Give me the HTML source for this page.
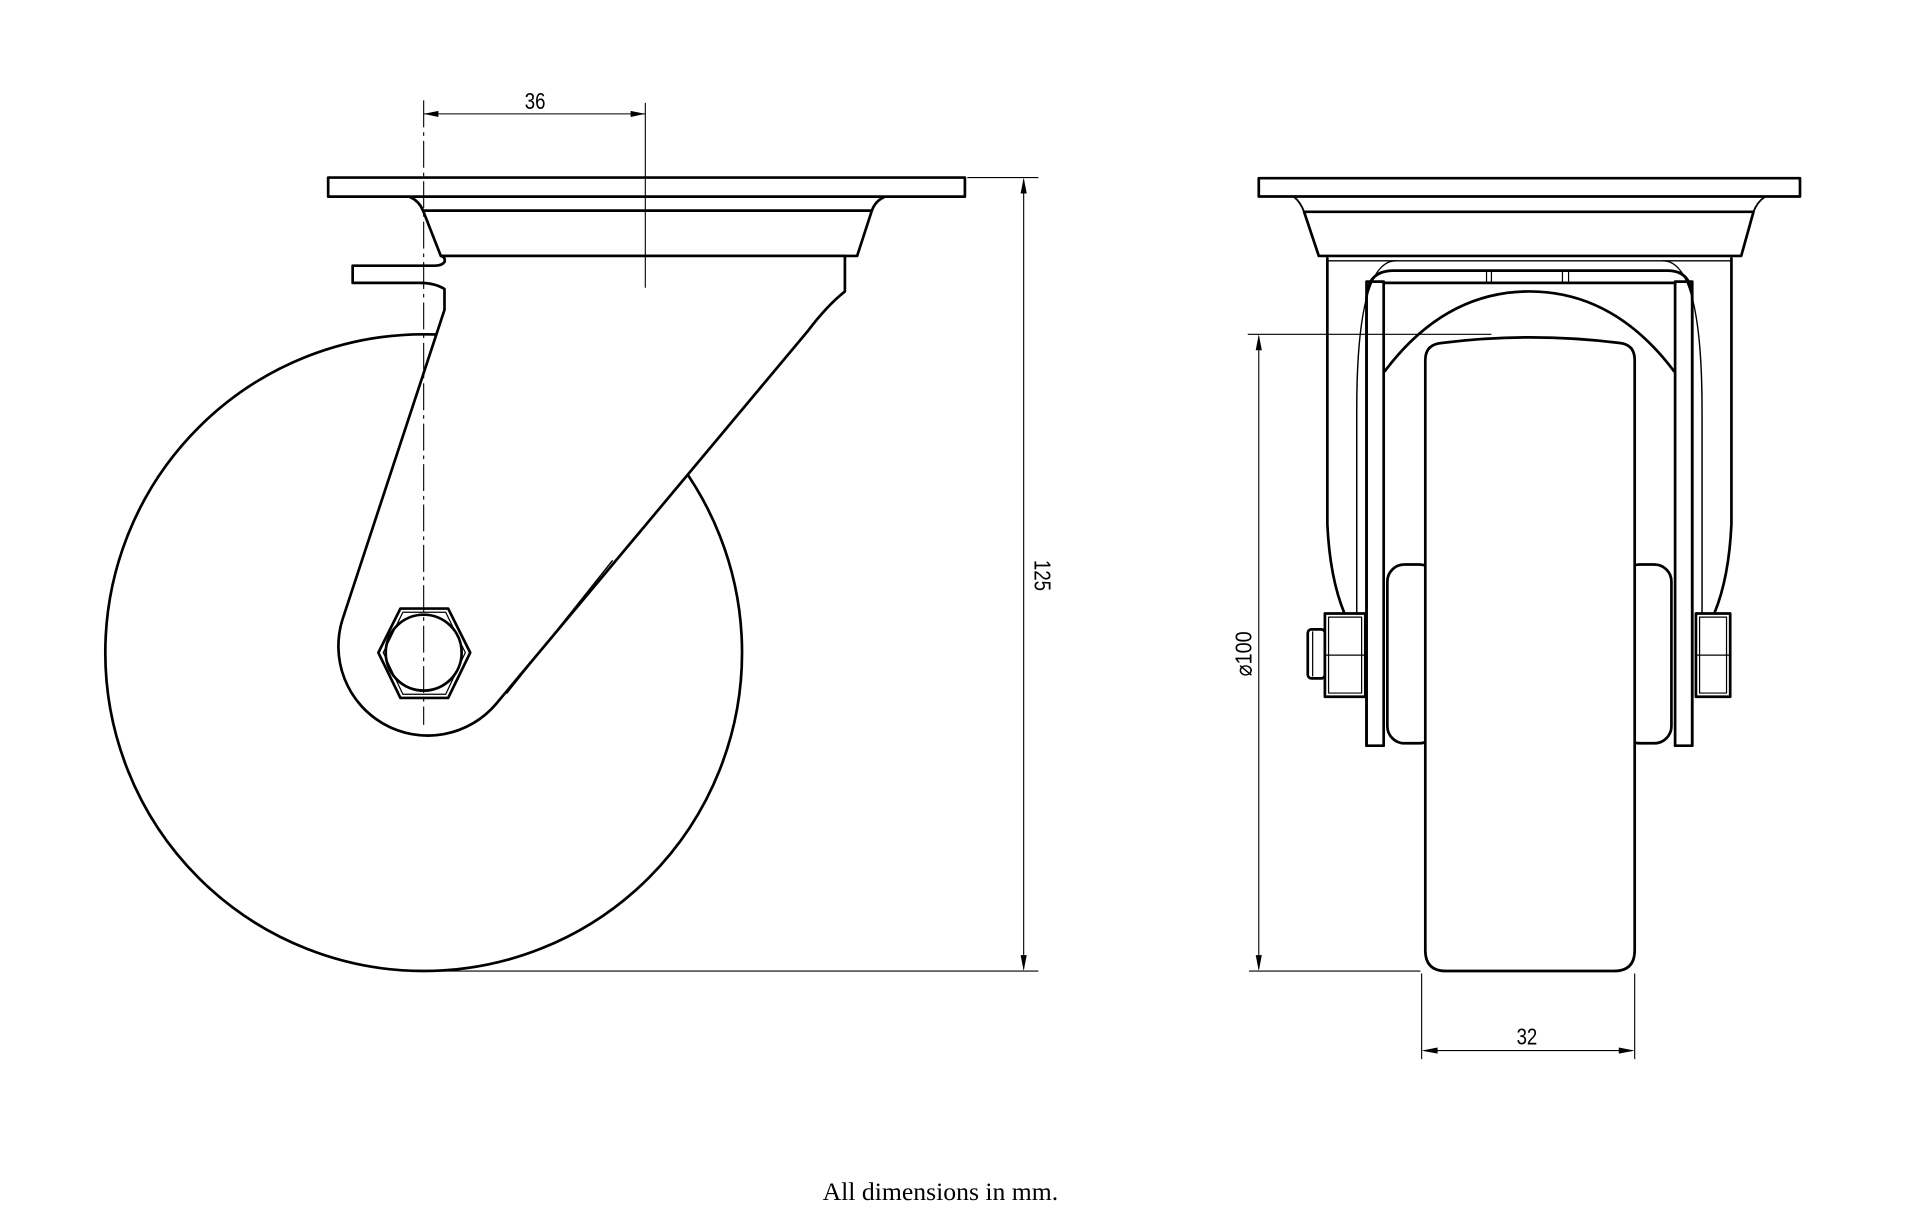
<!DOCTYPE html>
<html><head><meta charset="utf-8"><style>
html,body{margin:0;padding:0;background:#fff;}
svg{display:block;}
</style></head><body>
<svg width="1920" height="1209" viewBox="0 0 1568 987.35" xmlns="http://www.w3.org/2000/svg">
<g fill="none" stroke="#000" stroke-width="2.2" stroke-linejoin="round" stroke-linecap="round">
<!-- LEFT VIEW -->
<circle cx="346" cy="533" r="260"/>
<rect x="268" y="145" width="520" height="15.6" fill="#fff"/>
<path d="M335,161 Q342,164 345.5,172 M722,161 Q715,164 712,172"/>
<path d="M345.5,172 L712,172 L700,209 L360,209 Z" fill="#fff"/>
<path fill="#fff" d="M360,209 Q364,210 363,214 Q361,217 355,217 L288,217 L288,231 L343,231 Q355,231 363,236 L363,253 L280,505 A73,73 0 0 0 405,575 L660,270 Q675,250 690,238 L690,209 Z"/>
<path d="M414,566 L500,458" stroke-width="1.2"/>
<polygon points="309,533 327,497 366,497 384,533 366,570 327,570" fill="#fff"/>
<polygon points="313,533 329,500 364,500 380,533 364,567 329,567" stroke-width="1"/>
<circle cx="346" cy="533" r="31"/>
</g>
<g fill="none" stroke="#000" stroke-width="0.9">
<path d="M346,82 L346,592" stroke-dasharray="22,4,3,4"/>
<path d="M527,84 L527,235"/>
<path d="M346,93 L527,93"/>
<path d="M790,145 L848,145 M360,793 L848,793 M836,147 L836,791"/>
<path d="M1019,273 L1218,273 M1028,275 L1028,791 M1020,793 L1160,793"/>
<path d="M1161,795 L1161,865 M1335,795 L1335,865 M1163,858 L1333,858"/>
</g>
<g fill="#000" stroke="none">
<polygon points="346,93 358,90.5 358,95.5"/>
<polygon points="527,93 515,90.5 515,95.5"/>
<polygon points="836,145 833.5,158 838.5,158"/>
<polygon points="836,793 833.5,780 838.5,780"/>
<polygon points="1028,273 1025.5,286 1030.5,286"/>
<polygon points="1028,793 1025.5,780 1030.5,780"/>
<polygon points="1161,858 1174,855.5 1174,860.5"/>
<polygon points="1335,858 1322,855.5 1322,860.5"/>
</g>
<!-- RIGHT VIEW -->
<g fill="none" stroke="#000" stroke-width="2.2" stroke-linejoin="round" stroke-linecap="round">
<rect x="1028" y="145.5" width="442" height="15" fill="#fff"/>
<path d="M1057,161 Q1062,165 1065,173 M1441,161 Q1435,165 1432,173" stroke-width="1.5"/>
<path d="M1065,173 L1432,173 L1422,209 L1077,209 Z"/>
<path d="M1084,213 L1414,213" stroke-width="1.2"/>
<path d="M1084,211 L1084,428 Q1086,472 1098,501 M1414,211 L1414,428 Q1412,472 1400,501"/>
<path d="M1108,501 L1108,335 Q1108,213 1140,213 M1390,501 L1390,335 Q1390,213 1358,213" stroke-width="1.2"/>
<path d="M1116,609 L1116,245 Q1116,221 1138,221 L1362,221 Q1382,221 1382,245 L1382,609"/>
<rect x="1116" y="230" width="14" height="379"/>
<rect x="1368" y="230" width="14" height="379"/>
<path d="M1130,231 L1368,231" />
<path d="M1214,221 L1214,231 M1218,221 L1218,231 M1276,221 L1276,231 M1281,221 L1281,231" stroke-width="1"/>
<path d="M1131,303 Q1180,238 1249,238 Q1318,238 1367,303"/>
<rect x="1133" y="461" width="40" height="146" rx="14" fill="#fff"/>
<rect x="1325" y="461" width="40" height="146" rx="14" fill="#fff"/>
<path fill="#fff" d="M1164,294 Q1164,281 1178,280 Q1250,271 1322,280 Q1335,281 1335,294 L1335,776 Q1335,793 1318,793 L1181,793 Q1164,793 1164,776 Z"/>
<rect x="1068" y="514" width="14" height="40" rx="3" fill="#fff"/>
<path d="M1072,516 L1072,552" stroke-width="1"/>
<rect x="1082" y="501" width="33" height="68" fill="#fff"/>
<path d="M1082,535 L1115,535 M1085,504 L1112,504 L1112,566 L1085,566 Z" stroke-width="1"/>
<rect x="1385" y="501" width="28" height="68" fill="#fff"/>
<path d="M1385,535 L1413,535 M1388,504 L1410,504 L1410,566 L1388,566 Z" stroke-width="1"/>
</g>
<g font-family="'Liberation Sans', 'DejaVu Sans', sans-serif" font-size="19" fill="#000">
<text x="437" y="89" text-anchor="middle" transform="translate(437,89) scale(0.8,1) translate(-437,-89)">36</text>
<text x="0" y="0" text-anchor="middle" transform="translate(845,470) rotate(90) scale(0.8,1)">125</text>
<text x="0" y="0" text-anchor="middle" transform="translate(1022,534) rotate(-90) scale(0.85,1)">⌀100</text>
<text x="1247" y="853" text-anchor="middle" transform="translate(1247,853) scale(0.8,1) translate(-1247,-853)">32</text>
</g>
<text x="768" y="980" text-anchor="middle" font-family="'Liberation Serif', serif" font-size="21" fill="#000">All dimensions in mm.</text>
</svg>
</body></html>
